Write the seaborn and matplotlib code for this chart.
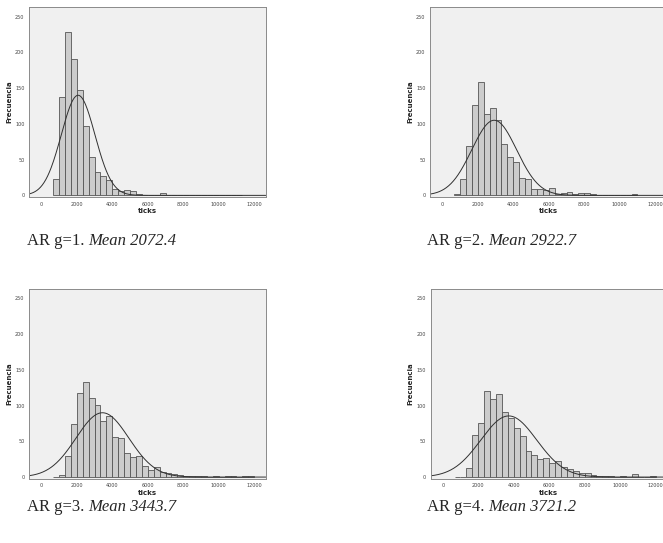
import numpy as np
import pandas as pd
import seaborn as sns
import matplotlib.pyplot as plt

# bins of 333.3 ticks starting at 666.7
bin_start = 2000 / 3
bin_width = 1000 / 3

counts_g1 = [23, 138, 228, 191, 148, 97, 53, 33, 27, 21, 9, 6, 8, 6, 2, 1, 1, 0, 3, 0,
             1, 0, 0, 0, 0, 0, 0, 0, 1, 0, 0, 1]
counts_g2 = [2, 23, 69, 126, 159, 114, 122, 105, 72, 53, 47, 24, 23, 9, 9, 7, 11, 2, 3, 5,
             2, 3, 3, 2, 1, 1, 1, 0, 0, 0, 2]
counts_g3 = [0, 3, 30, 74, 118, 133, 110, 101, 79, 86, 56, 55, 34, 28, 29, 16, 10, 14, 7, 5,
             4, 3, 2, 2, 1, 2, 0, 1, 0, 2, 1, 0, 1, 1]
counts_g4 = [0, 0, 13, 59, 75, 121, 109, 116, 91, 83, 69, 58, 36, 31, 25, 26, 20, 22, 14, 11,
             8, 6, 6, 3, 2, 1, 2, 0, 1, 0, 4, 0, 0, 2]

groups = ["1", "2", "3", "4"]
means = [2072.4, 2922.7, 3443.7, 3721.2]
sds = [948, 1266, 1490, 1577]
all_counts = [counts_g1, counts_g2, counts_g3, counts_g4]

x_ticks = [0, 2000, 4000, 6000, 8000, 10000, 12000]
y_ticks = [0, 50, 100, 150, 200, 250]

sns.set_style("white")
plt.rcParams['font.family'] = ['DejaVu Sans']

W, H = 663, 543
fig = plt.figure(figsize=(W / 100, H / 100), dpi=100)

# panel frames in pixels: left, top
frames = [(29.3, 7.3), (430.3, 7.3), (29.3, 289), (430.7, 289)]
aw, ah = 236.4, 189.5
captions_y = [241, 241, 507, 507]
captions_x = [27, 427, 27, 427]

for i in range(4):
    left, top = frames[i]
    ax = fig.add_axes([left / W, 1 - (top + ah) / H, aw / W, ah / H])
    ax.set_facecolor("#f0f0f0")
    counts = np.array(all_counts[i])
    nb = len(counts)
    mids = bin_start + bin_width * (np.arange(nb) + 0.5)
    df = pd.DataFrame({"ticks": mids, "n": counts})
    sns.histplot(data=df, x="ticks", weights="n", bins=nb,
                 binrange=(bin_start, bin_start + nb * bin_width), ax=ax,
                 color="#cccccc", edgecolor="#555555", linewidth=0.6, alpha=1)
    # fitted normal curve
    xs = np.linspace(-680, 12650, 400)
    n = counts.sum()
    ys = n * bin_width / (sds[i] * np.sqrt(2 * np.pi)) * np.exp(-0.5 * ((xs - means[i]) / sds[i]) ** 2)
    sns.lineplot(x=xs, y=ys, ax=ax, color="#303030", linewidth=0.7)

    ax.set_xlim(-680, 12650)
    ax.set_ylim(-2, 263)
    ax.set_xticks(x_ticks)
    ax.set_yticks(y_ticks)
    ax.tick_params(labelsize=3.5, length=2, width=0.5, pad=1.5, colors="#444444")
    ax.set_xlabel("ticks", fontsize=5, fontweight="bold", labelpad=1)
    ax.set_ylabel("Frecuencia", fontsize=5, fontweight="bold", labelpad=2)
    for s in ax.spines.values():
        s.set_color("#8a8a8a")
        s.set_linewidth(0.7)

    # caption: plain part + italic part
    t1 = fig.text(captions_x[i] / W, 1 - captions_y[i] / H, "AR g=" + groups[i] + ". ",
                  family="Liberation Serif", fontsize=12, va="center", ha="left")
    fig.canvas.draw()
    bb = t1.get_window_extent()
    fig.text(bb.x1 / W, 1 - captions_y[i] / H, "Mean " + str(means[i]),
             family="Liberation Serif", style="italic", fontsize=12, va="center", ha="left")

fig.savefig("out.png", dpi=100)
